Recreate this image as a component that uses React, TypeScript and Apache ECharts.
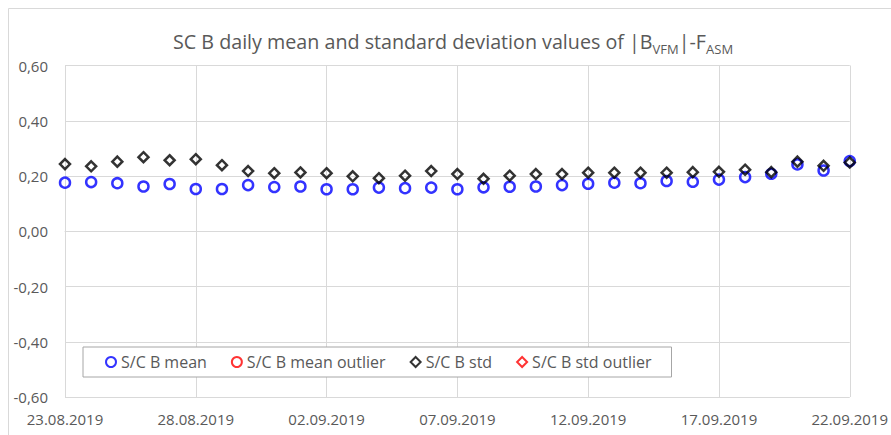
import React, { useEffect, useRef } from 'react';
import * as echarts from 'echarts';

const dates: string[] = [
  '23.08.2019', '24.08.2019', '25.08.2019', '26.08.2019', '27.08.2019', '28.08.2019', '29.08.2019',
  '30.08.2019', '31.08.2019', '01.09.2019', '02.09.2019', '03.09.2019', '04.09.2019', '05.09.2019',
  '06.09.2019', '07.09.2019', '08.09.2019', '09.09.2019', '10.09.2019', '11.09.2019', '12.09.2019',
  '13.09.2019', '14.09.2019', '15.09.2019', '16.09.2019', '17.09.2019', '18.09.2019', '19.09.2019',
  '20.09.2019', '21.09.2019', '22.09.2019',
];

const meanValues: number[] = [
  0.176, 0.178, 0.174, 0.162, 0.171, 0.153, 0.153, 0.167, 0.160, 0.162, 0.152, 0.152, 0.158, 0.156,
  0.158, 0.152, 0.159, 0.161, 0.162, 0.167, 0.172, 0.176, 0.174, 0.182, 0.179, 0.187, 0.196, 0.208,
  0.242, 0.220, 0.254,
];

const stdValues: number[] = [
  0.243, 0.235, 0.252, 0.268, 0.257, 0.261, 0.239, 0.218, 0.210, 0.213, 0.210, 0.199, 0.192, 0.201,
  0.218, 0.207, 0.190, 0.201, 0.207, 0.207, 0.212, 0.212, 0.212, 0.212, 0.214, 0.215, 0.223, 0.214,
  0.252, 0.237, 0.249,
];

const meanOutlierValues: number[] = [];
const stdOutlierValues: number[] = [];

const seriesNames = ['S/C B mean', 'S/C B mean outlier', 'S/C B std', 'S/C B std outlier'];

const FONT = '"Open Sans", "Noto Sans", sans-serif';
const TEXT = '#595959';
const GRID = '#d9d9d9';

export default function App() {
  const ref = useRef<HTMLDivElement>(null);

  useEffect(() => {
    document.body.style.margin = '0';
    document.body.style.overflow = 'hidden';
    if (!ref.current) return;
    const chart = echarts.init(ref.current, undefined, { renderer: 'svg' });

    const mk = (name: string, data: number[], symbol: string, color: string) => ({
      name,
      type: 'scatter',
      data,
      symbol,
      symbolSize: 10,
      itemStyle: { color: 'rgba(0,0,0,0)', borderColor: color, borderWidth: 2.5 },
    });

    chart.setOption({
      animation: false,
      backgroundColor: '#fff',
      textStyle: { fontFamily: FONT },
      title: {
        text: 'SC B daily mean and standard deviation values of |B{sub|VFM}|-F{sub|ASM}',
        left: 168,
        top: 22,
        textStyle: {
          fontFamily: FONT,
          fontSize: 19.7,
          fontWeight: 'normal',
          color: TEXT,
          lineHeight: 28,
          rich: {
            sub: { fontFamily: FONT, fontSize: 13, lineHeight: 13, verticalAlign: 'bottom', color: TEXT },
          },
        },
      },
      graphic: [
        { type: 'line', shape: { x1: 8.5, y1: 8.5, x2: 891, y2: 8.5 }, style: { stroke: GRID, lineWidth: 1 } },
        { type: 'line', shape: { x1: 8.5, y1: 8.5, x2: 8.5, y2: 435 }, style: { stroke: GRID, lineWidth: 1 } },
      ],
      legend: {
        data: seriesNames,
        left: 83,
        top: 347,
        padding: [7, 20, 7, 22],
        itemGap: 24,
        itemWidth: 10,
        itemHeight: 10,
        backgroundColor: '#fff',
        borderColor: '#a6a6a6',
        borderWidth: 1,
        textStyle: { fontFamily: FONT, fontSize: 16, color: TEXT },
      },
      grid: { left: 65, right: 36, top: 65.5, bottom: 38, containLabel: false },
      xAxis: {
        type: 'category',
        data: dates,
        boundaryGap: false,
        axisLine: { show: true, lineStyle: { color: GRID } },
        axisTick: { show: false },
        axisLabel: {
          interval: 4,
          showMaxLabel: true,
          hideOverlap: false,
          margin: 14,
          fontFamily: FONT,
          fontSize: 15,
          color: TEXT,
        },
        splitLine: { show: true, interval: 4, lineStyle: { color: GRID } },
      },
      yAxis: {
        type: 'value',
        min: -0.6,
        max: 0.6,
        interval: 0.2,
        axisLine: { show: false },
        axisTick: { show: false },
        axisLabel: {
          margin: 17,
          fontFamily: FONT,
          fontSize: 15,
          color: TEXT,
          formatter: (v: number) => v.toFixed(2).replace('.', ','),
        },
        splitLine: { show: true, lineStyle: { color: GRID } },
      },
      series: [
        mk(seriesNames[0], meanValues, 'circle', '#0000ff'),
        mk(seriesNames[1], meanOutlierValues, 'circle', '#ff0000'),
        mk(seriesNames[2], stdValues, 'diamond', '#000000'),
        mk(seriesNames[3], stdOutlierValues, 'diamond', '#ff0000'),
      ],
    });

    return () => chart.dispose();
  }, []);

  return <div ref={ref} style={{ width: 891, height: 435 }} />;
}
